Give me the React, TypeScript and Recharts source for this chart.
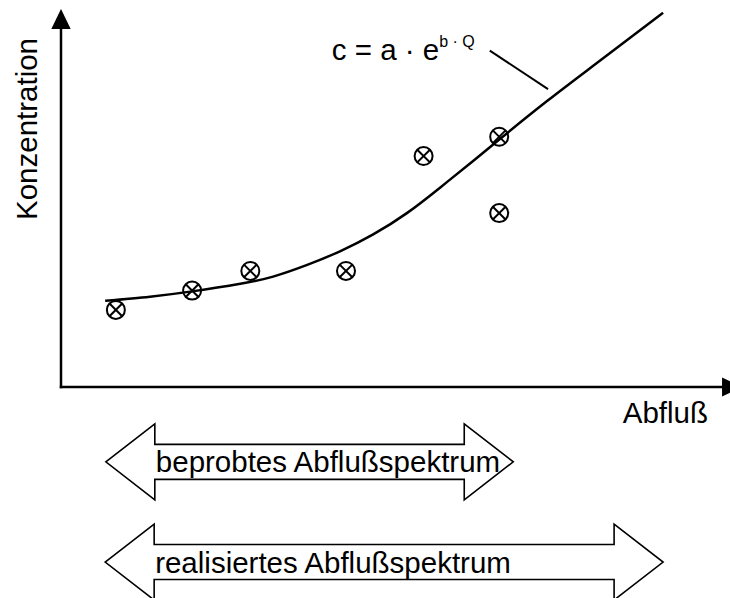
import { ComposedChart, Line, Scatter, XAxis, YAxis, ReferenceLine } from 'recharts';

const FONT = '"Liberation Sans", Arial, Helvetica, sans-serif';
const TEXT_SIZE = 29.5;

// Messwerte (Abfluß Q, Konzentration c), Einheiten frei gewählt 0..10
const sampleQ = [0.82, 1.96, 2.83, 4.26, 5.42, 6.55, 6.55];
const sampleC = [2.04, 2.55, 3.07, 3.07, 6.11, 6.62, 4.6];

// angepasste Kurve c = a · e^(b·Q)
const curveQ = [0.66, 1.33, 1.96, 2.68, 3.17, 3.68, 4.17, 4.66, 5.17, 5.67, 6.16, 6.56, 7.27, 8.01, 9.0];
const curveC = [2.28, 2.39, 2.53, 2.73, 2.92, 3.23, 3.59, 4.03, 4.6, 5.28, 5.98, 6.56, 7.57, 8.57, 9.9];

// Abflußspektren unter der Achse
const spectrumLabels = ['beprobtes Abflußspektrum', 'realisiertes Abflußspektrum'];
const spectrumFrom = [0.67, 0.66];
const spectrumTo = [6.76, 9.0];
const spectrumLevel = [-1.98, -4.63];

// Beschriftung der Kurve (Hinweislinie)
const leaderQ = [6.41, 7.28];
const leaderC = [8.9, 7.88];

const axisEndQ = 10.18;
const axisEndC = 10;

const samples = sampleQ.map((q, i) => ({ x: q, y: sampleC[i] }));
const curve = curveQ.map((q, i) => ({ x: q, y: curveC[i] }));

const CrossCircle = ({ cx, cy }: any) => {
  const r = 9;
  const d = r * Math.SQRT1_2;
  return (
    <g stroke="#000" strokeWidth={2} fill="none">
      <circle cx={cx} cy={cy} r={r} />
      <line x1={cx - d} y1={cy - d} x2={cx + d} y2={cy + d} />
      <line x1={cx - d} y1={cy + d} x2={cx + d} y2={cy - d} />
    </g>
  );
};

const XAxisArrow = ({ x1, y1, x2 }: any) => {
  const head = 20;
  return (
    <g>
      <line x1={x1} y1={y1} x2={x2 - head} y2={y1} stroke="#000" strokeWidth={2.5} strokeLinecap="square" />
      <polygon points={`${x2 - head},${y1 - 9.5} ${x2},${y1} ${x2 - head},${y1 + 9.5}`} fill="#000" />
      <text x={x2 - 34} y={y1 + 36} textAnchor="end" fontFamily={FONT} fontSize={TEXT_SIZE} fill="#000">
        Abfluß
      </text>
    </g>
  );
};

const YAxisArrow = ({ x1, y1, y2 }: any) => {
  const head = 20;
  return (
    <g>
      <line x1={x1} y1={y1} x2={x1} y2={y2 + head} stroke="#000" strokeWidth={2.5} strokeLinecap="square" />
      <polygon points={`${x1 - 9.7},${y2 + head} ${x1},${y2} ${x1 + 9.7},${y2 + head}`} fill="#000" />
      <text
        x={x1 - 24}
        y={y2 + 120}
        textAnchor="middle"
        transform={`rotate(-90 ${x1 - 24} ${y2 + 120})`}
        fontFamily={FONT}
        fontSize={TEXT_SIZE}
        fill="#000"
      >
        Konzentration
      </text>
    </g>
  );
};

const Leader = ({ x1, y1, x2, y2 }: any) => (
  <g>
    <line x1={x1} y1={y1} x2={x2} y2={y2} stroke="#000" strokeWidth={2} />
    <text x={x1 - 158} y={y1 + 9} fontFamily={FONT} fontSize={TEXT_SIZE} fill="#000">
      c = a · e
      <tspan dy={-13} fontSize={16}>
        b · Q
      </tspan>
    </text>
  </g>
);

const spectrumShape = (label: string) => ({ x1, y1, x2 }: any) => {
  const h = 49;
  const H = 38;
  const s = 17.5;
  const pts = [
    [x1, y1],
    [x1 + h, y1 - H],
    [x1 + h, y1 - s],
    [x2 - h, y1 - s],
    [x2 - h, y1 - H],
    [x2, y1],
    [x2 - h, y1 + H],
    [x2 - h, y1 + s],
    [x1 + h, y1 + s],
    [x1 + h, y1 + H],
  ]
    .map((p) => p.join(','))
    .join(' ');
  return (
    <g>
      <polygon points={pts} fill="#fff" stroke="#000" strokeWidth={1.6} />
      <text x={x1 + h + 1} y={y1 + 10.5} fontFamily={FONT} fontSize={TEXT_SIZE} fill="#000">
        {label}
      </text>
    </g>
  );
};

export default function App() {
  return (
    <div style={{ position: 'absolute', left: 0, top: 0, width: 730, height: 598, background: '#fff' }}>
      <ComposedChart width={730} height={598} margin={{ top: 9, right: 0, bottom: 211, left: 61 }}>
        <XAxis dataKey="x" type="number" domain={[0, 10]} allowDataOverflow hide />
        <YAxis type="number" domain={[0, 10]} allowDataOverflow hide />
        <ReferenceLine
          segment={[{ x: 0, y: 0 }, { x: axisEndQ, y: 0 }]}
          ifOverflow="visible"
          shape={XAxisArrow}
        />
        <ReferenceLine
          segment={[{ x: 0, y: 0 }, { x: 0, y: axisEndC }]}
          ifOverflow="visible"
          shape={YAxisArrow}
        />
        {spectrumLabels.map((label, i) => (
          <ReferenceLine
            key={label}
            segment={[{ x: spectrumFrom[i], y: spectrumLevel[i] }, { x: spectrumTo[i], y: spectrumLevel[i] }]}
            ifOverflow="visible"
            shape={spectrumShape(label)}
          />
        ))}
        <ReferenceLine
          segment={[{ x: leaderQ[0], y: leaderC[0] }, { x: leaderQ[1], y: leaderC[1] }]}
          ifOverflow="visible"
          shape={Leader}
        />
        <Line
          data={curve}
          dataKey="y"
          type="natural"
          stroke="#000"
          strokeWidth={2.5}
          dot={false}
          activeDot={false}
          isAnimationActive={false}
        />
        <Scatter data={samples} dataKey="y" shape={CrossCircle} isAnimationActive={false} />
      </ComposedChart>
    </div>
  );
}
